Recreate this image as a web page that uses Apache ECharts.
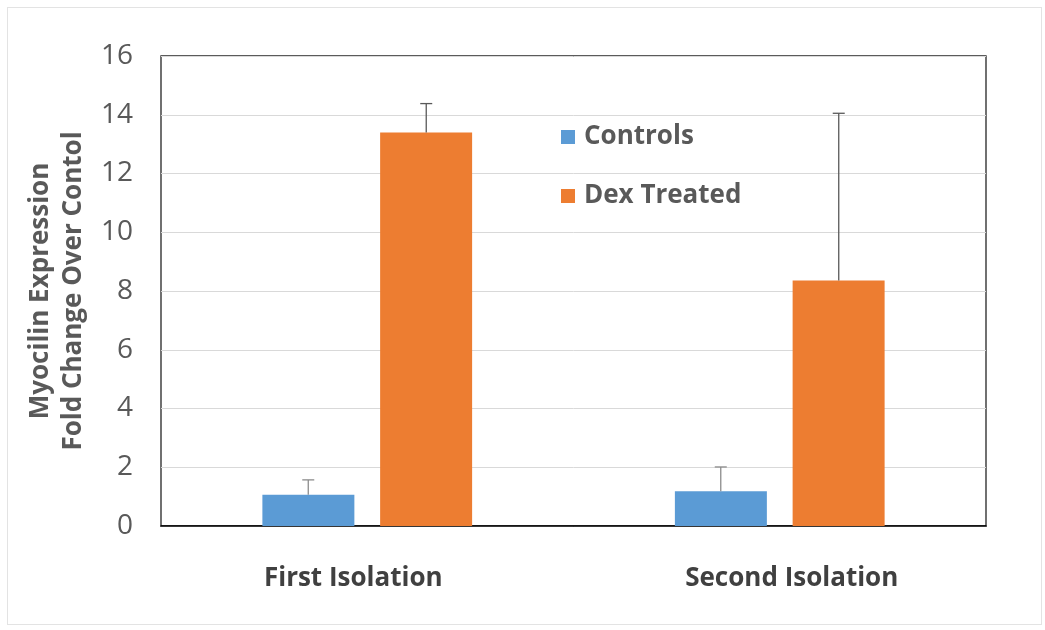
<!DOCTYPE html>
<html>
<head>
<meta charset="utf-8">
<script src="https://cdn.jsdelivr.net/npm/echarts@6/dist/echarts.min.js"></script>
<style>
  html, body { margin: 0; padding: 0; background: #fff; }
  #chart { width: 1045px; height: 630px; }
  #frame { position: absolute; left: 7px; top: 7px; width: 1033px; height: 616px; border: 1px solid #e3e3e3; pointer-events: none; }
</style>
</head>
<body>
<div id="chart"></div>
<div id="frame"></div>
<script>
var categories = ['First Isolation', 'Second Isolation'];
var controls = [1.06, 1.18];
var controlsErrTop = [1.57, 2.01];
var dexTreated = [13.4, 8.36];
var dexErrTop = [14.38, 14.05];
var yTicks = [0, 2, 4, 6, 8, 10, 12, 14, 16];

var font = '"Open Sans", "Noto Sans", sans-serif';

// upper-only error bars drawn on top of each bar
function errorSeries(name, vals, tops, side, color) {
  var data = vals.map(function (v, i) { return [i, v, tops[i]]; });
  return {
    name: name + ' err',
    type: 'custom',
    z: 5,
    silent: true,
    renderItem: function (params, api) {
      var idx = api.value(0);
      var bandW = api.size([1, 0])[0];
      var off = side * bandW * 0.143;
      var base = api.coord([idx, api.value(1)]);
      var top = api.coord([idx, api.value(2)]);
      var x = base[0] + off;
      var style = { stroke: color, lineWidth: 1.3 };
      return {
        type: 'group',
        children: [
          { type: 'line', shape: { x1: x, y1: base[1], x2: x, y2: top[1] }, style: style },
          { type: 'line', shape: { x1: x - 6, y1: top[1], x2: x + 6, y2: top[1] }, style: style }
        ]
      };
    },
    encode: { x: 0, y: 1 },
    data: data
  };
}

// the labels in the original sit a little off the category centres
var labelPads = [[0, 28, 0, 0], [0, 0, 0, 24]];
var catData = categories.map(function (c, i) {
  return { value: c, textStyle: { padding: labelPads[i] } };
});

var chart = echarts.init(document.getElementById('chart'));
chart.setOption({
  animation: false,
  backgroundColor: '#fff',
  grid: { left: 161, right: 59, top: 56, bottom: 104, show: true, borderColor: '#262626', borderWidth: 1.3 },
  legend: {
    data: ['Controls', 'Dex Treated'],
    orient: 'vertical',
    left: 556,
    top: 119,
    itemWidth: 14,
    itemHeight: 14,
    itemGap: 33,
    icon: 'rect',
    textStyle: { fontFamily: font, fontSize: 26, fontWeight: 'bold', color: '#595959', padding: [0, 0, 0, 4] }
  },
  xAxis: {
    type: 'category',
    data: catData,
    axisTick: { show: false },
    axisLine: { lineStyle: { color: '#000', width: 1.5 } },
    axisLabel: { margin: 40, fontFamily: font, fontSize: 26, fontWeight: 'bold', color: '#404040' }
  },
  yAxis: {
    type: 'value',
    min: 0,
    max: 16,
    interval: 2,
    name: 'Myocilin Expression\nFold Change Over Contol',
    nameLocation: 'middle',
    nameRotate: 90,
    nameGap: 68,
    nameTextStyle: { fontFamily: font, fontSize: 26, fontWeight: 'bold', color: '#595959', lineHeight: 33 },
    axisLine: { show: false },
    axisTick: { show: false },
    splitLine: { lineStyle: { color: '#d9d9d9', width: 1 } },
    axisLabel: {
      margin: 28,
      fontFamily: font,
      fontSize: 28,
      color: '#595959',
      formatter: function (v) { return yTicks.indexOf(v) >= 0 ? String(v) : ''; }
    }
  },
  series: [
    {
      name: 'Controls',
      type: 'bar',
      data: controls,
      barWidth: '22.3%',
      barGap: '28%',
      itemStyle: { color: '#5b9bd5' }
    },
    {
      name: 'Dex Treated',
      type: 'bar',
      data: dexTreated,
      barWidth: '22.3%',
      itemStyle: { color: '#ed7d31' }
    },
    errorSeries('Controls', controls, controlsErrTop, -1, '#8c8c8c'),
    errorSeries('Dex Treated', dexTreated, dexErrTop, 1, '#595959')
  ]
});
</script>
</body>
</html>
